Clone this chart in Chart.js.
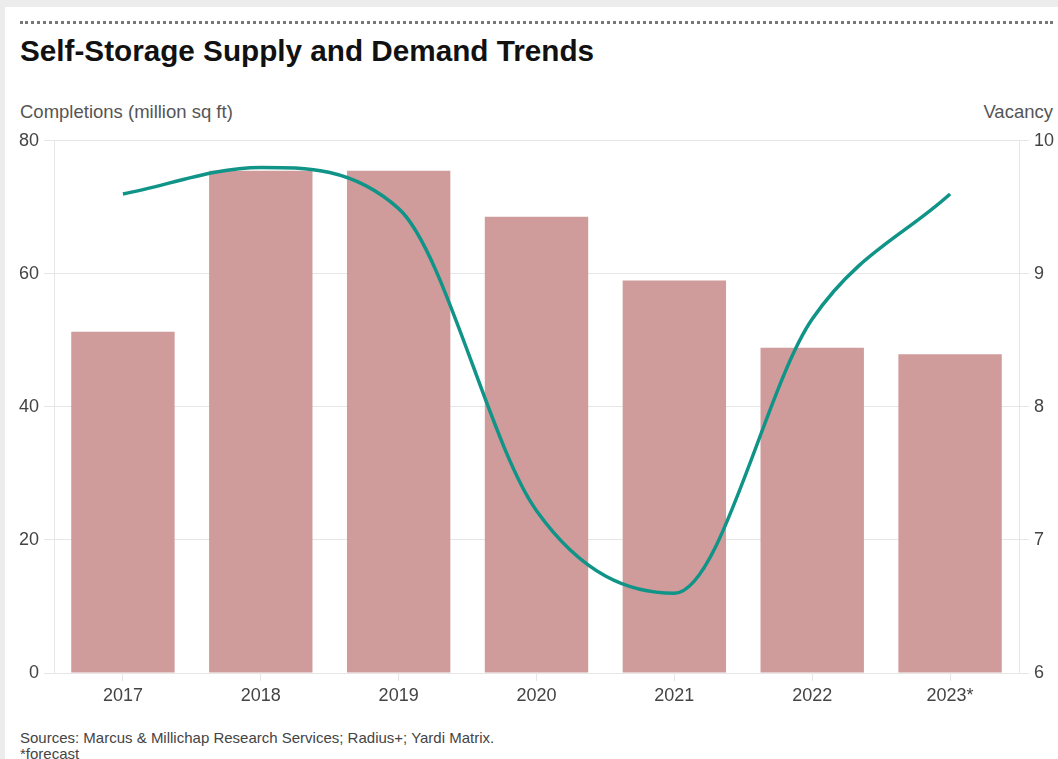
<!DOCTYPE html>
<html>
<head>
<meta charset="utf-8">
<script src="https://cdn.jsdelivr.net/npm/chart.js@4.4.0/dist/chart.umd.min.js"></script>
<style>
    body { margin: 0; background: #ececec; font-family: "Liberation Sans", Arial, sans-serif; overflow: hidden; }
    #card { position: absolute; left: 5px; top: 7px; right: 0; bottom: 0; background: #fff; }
    #dots { position: absolute; left: 20px; top: 21px; width: 1033px; border-top: 3px dotted #777; }
    #title { position: absolute; left: 20px; top: 34px; font-size: 29.7px; font-weight: bold; color: #111; white-space: nowrap; }
    .axis-title { position: absolute; top: 101px; font-size: 18.5px; color: #555; white-space: nowrap; }
    #leftTitle { left: 20px; }
    #rightTitle { right: 5px; }
    #source { position: absolute; left: 20px; top: 730px; font-size: 15px; color: #444; line-height: 16px; }
    #chartBox { position: absolute; left: 0; top: 125px; }
</style>
</head>
<body>
<div id="card"></div>
<div id="dots"></div>
<div id="title">Self-Storage Supply and Demand Trends</div>
<div class="axis-title" id="leftTitle">Completions (million sq ft)</div>
<div class="axis-title" id="rightTitle">Vacancy</div>
<div id="chartBox"><canvas id="chart" width="1058" height="598"></canvas></div>
<div id="source">Sources: Marcus &amp; Millichap Research Services; Radius+; Yardi Matrix.<br>*forecast</div>

<script>
// chart data
const years = ['2017', '2018', '2019', '2020', '2021', '2022', '2023*'];
const completions = [51.3, 75.5, 75.5, 68.6, 59.0, 48.9, 47.9];
const vacancy = [9.6, 9.8, 9.49, 7.22, 6.6, 8.66, 9.6];
const completionTicks = [0, 20, 40, 60, 80];
const vacancyTicks = [6, 7, 8, 9, 10];

const gridColor = '#e6e6e6';
const tickFont = { family: '"Liberation Sans", Arial, sans-serif', size: 18 };

document.addEventListener('DOMContentLoaded', function() {
    const ctx = document.getElementById('chart').getContext('2d');

    new Chart(ctx, {
        type: 'bar',
        data: {
            labels: years,
            datasets: [
                {
                    type: 'line',
                    label: 'Vacancy',
                    data: vacancy,
                    yAxisID: 'y1',
                    borderColor: '#119488',
                    borderWidth: 3.5,
                    pointRadius: 0,
                    cubicInterpolationMode: 'monotone',
                    fill: false,
                    order: 0
                },
                {
                    label: 'Completions',
                    data: completions,
                    yAxisID: 'y',
                    backgroundColor: '#d09b9b',
                    barPercentage: 0.75,
                    categoryPercentage: 1,
                    order: 1
                }
            ]
        },
        options: {
            responsive: false,
            devicePixelRatio: 1,
            animation: false,
            layout: { padding: { top: 15, left: 0, right: 0, bottom: 0 } },
            plugins: {
                legend: { display: false },
                tooltip: { enabled: false }
            },
            scales: {
                x: {
                    afterFit: function(scale) { scale.height = 50; },
                    grid: { display: true, drawOnChartArea: false, offset: false, tickLength: 8, tickColor: gridColor },
                    border: { display: true, color: gridColor },
                    ticks: { color: '#444', font: tickFont, padding: 4, maxRotation: 0 }
                },
                y: {
                    position: 'left',
                    min: 0,
                    max: 80,
                    afterFit: function(scale) { scale.width = 54; },
                    afterBuildTicks: function(scale) {
                        scale.ticks = completionTicks.map(v => ({ value: v }));
                    },
                    grid: { color: gridColor, tickLength: 10, tickColor: gridColor },
                    border: { display: true, color: gridColor },
                    ticks: { color: '#444', font: tickFont, padding: 5 }
                },
                y1: {
                    position: 'right',
                    min: 6,
                    max: 10,
                    afterFit: function(scale) { scale.width = 39; },
                    afterBuildTicks: function(scale) {
                        scale.ticks = vacancyTicks.map(v => ({ value: v }));
                    },
                    grid: { drawOnChartArea: false, tickLength: 10, tickColor: gridColor },
                    border: { display: true, color: gridColor },
                    ticks: { color: '#444', font: tickFont, padding: 5 }
                }
            }
        }
    });
});
</script>
</body>
</html>
